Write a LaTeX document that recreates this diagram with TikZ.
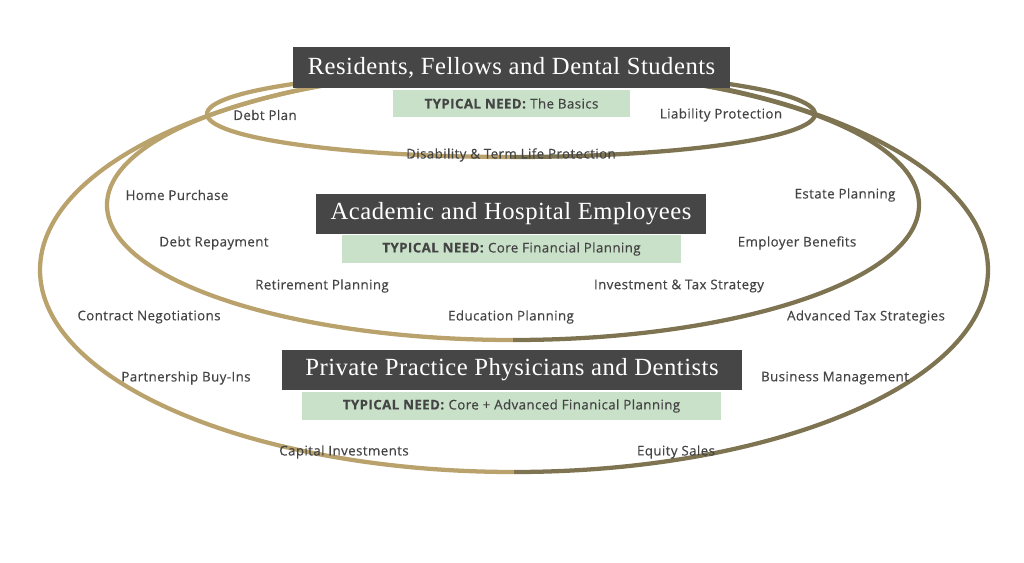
\documentclass[tikz,border=0pt]{standalone}
\usepackage{fontspec}
\setmainfont{Open Sans}[LetterSpace=3,FakeBold=0.4]
\newfontfamily\titlefont{Liberation Serif}[LetterSpace=2]
\definecolor{ringL}{HTML}{B9A26C}
\definecolor{ringR}{HTML}{7E7452}
\definecolor{dark}{HTML}{464646}
\definecolor{need}{HTML}{C8E1C8}
\definecolor{txt}{HTML}{444444}
\begin{document}
\begin{tikzpicture}[x=0.75pt,y=-0.75pt,
  ringline/.style={line width=3.2pt},
  title/.style={fill=dark,text=white,font=\titlefont\fontsize{18.5}{20}\selectfont,inner sep=0pt,anchor=center},
  needbox/.style={fill=need,text=txt,font=\fontsize{10}{12}\selectfont,inner sep=0pt,anchor=center},
  lbl/.style={text=txt,font=\fontsize{10}{12}\selectfont,anchor=center}]
\useasboundingbox (0,0) rectangle (1024,563);
\foreach \cx/\cy/\rx/\ry in {514/270/474/202, 513/205/406/135, 511/114/304/43}{
  \begin{scope}
    \clip (0,0) rectangle (\cx,563);
    \draw[ringline,ringL] (\cx,\cy) ellipse [x radius=\rx*0.75pt, y radius=\ry*0.75pt];
  \end{scope}
  \begin{scope}
    \clip (\cx,0) rectangle (1024,563);
    \draw[ringline,ringR] (\cx,\cy) ellipse [x radius=\rx*0.75pt, y radius=\ry*0.75pt];
  \end{scope}
}
\node[title,minimum width=437*0.75pt,minimum height=41*0.75pt] (t1) at (511.5,67.5) {Residents, Fellows and Dental Students};
\node[needbox,minimum width=237*0.75pt,minimum height=27*0.75pt] (n1) at (511.5,103.5) {\textbf{TYPICAL NEED:} The Basics};
\node[title,minimum width=390*0.75pt,minimum height=40*0.75pt] (t2) at (511,214) {Academic and Hospital Employees};
\node[needbox,minimum width=339*0.75pt,minimum height=28*0.75pt] (n2) at (511.5,249) {\textbf{TYPICAL NEED:} Core Financial Planning};
\node[title,minimum width=460*0.75pt,minimum height=40*0.75pt] (t3) at (512,370) {Private Practice Physicians and Dentists};
\node[needbox,minimum width=419*0.75pt,minimum height=28*0.75pt] (n3) at (511.5,406) {\textbf{TYPICAL NEED:} Core + Advanced Finanical Planning};
\node[lbl] (a1) at (265,115) {Debt Plan};
\node[lbl] (a2) at (721,115) {Liability Protection};
\node[lbl] (a3) at (511,155) {Disability \& Term Life Protection};
\node[lbl] (b1) at (177,195) {Home Purchase};
\node[lbl] (b2) at (845,195) {Estate Planning};
\node[lbl] (b3) at (214,243) {Debt Repayment};
\node[lbl] (b4) at (797,243) {Employer Benefits};
\node[lbl] (b5) at (322,286) {Retirement Planning};
\node[lbl] (b6) at (679,286) {Investment \& Tax Strategy};
\node[lbl] (b7) at (511,317) {Education Planning};
\node[lbl] (c1) at (149,317) {Contract Negotiations};
\node[lbl] (c2) at (866,317) {Advanced Tax Strategies};
\node[lbl] (c3) at (186,378) {Partnership Buy-Ins};
\node[lbl] (c4) at (835,378) {Business Management};
\node[lbl] (c5) at (344,452) {Capital Investments};
\node[lbl] (c6) at (676,452) {Equity Sales};
\end{tikzpicture}
\end{document}
